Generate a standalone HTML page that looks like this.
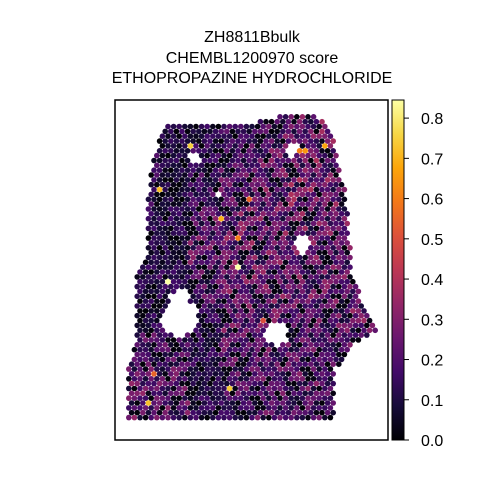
<!DOCTYPE html>
<html><head><meta charset="utf-8"><style>
body{margin:0;background:#fff;width:480px;height:480px;overflow:hidden;font-family:"Liberation Sans",sans-serif}
text{font-family:"Liberation Sans",sans-serif}
</style></head><body>
<svg id="chart" width="480" height="480" xmlns="http://www.w3.org/2000/svg">
<defs>
<linearGradient id="inferno" x1="0" y1="1" x2="0" y2="0">
<stop offset="0" stop-color="#000004"/><stop offset="0.1" stop-color="#160b39"/><stop offset="0.2" stop-color="#420a68"/><stop offset="0.3" stop-color="#6a176e"/><stop offset="0.4" stop-color="#932667"/><stop offset="0.5" stop-color="#bc3754"/><stop offset="0.6" stop-color="#dd513a"/><stop offset="0.7" stop-color="#f37819"/><stop offset="0.8" stop-color="#fca50a"/><stop offset="0.9" stop-color="#f6d746"/><stop offset="1" stop-color="#fcffa4"/>
</linearGradient>
</defs>
<g font-size="16" text-anchor="middle" fill="#000">
<text x="252" y="42">ZH8811Bbulk</text>
<text x="252" y="63">CHEMBL1200970 score</text>
<text x="252" y="83">ETHOPROPAZINE HYDROCHLORIDE</text>
</g>
<g id="spots"></g>
<rect x="115" y="100" width="273" height="340" fill="none" stroke="#000" stroke-width="1.5"/>
<rect x="392" y="100" width="12" height="340" fill="url(#inferno)" stroke="#000" stroke-width="1"/>
<g id="cbticks" font-size="16"></g>
</svg>
<script>
const cbTicks=[0.0,0.1,0.2,0.3,0.4,0.5,0.6,0.7,0.8];
const cbMax=0.845;
// coarse mean score per region (rows top->bottom, cols left->right)
const gridVals=[
[0.12,0.10,0.10,0.14,0.16,0.20,0.22,0.22],
[0.12,0.09,0.12,0.16,0.20,0.23,0.23,0.22],
[0.12,0.08,0.14,0.18,0.21,0.23,0.22,0.21],
[0.12,0.10,0.19,0.21,0.21,0.22,0.21,0.20],
[0.10,0.09,0.19,0.22,0.21,0.21,0.20,0.20],
[0.09,0.12,0.17,0.21,0.21,0.21,0.20,0.20],
[0.10,0.12,0.12,0.20,0.20,0.19,0.19,0.21],
[0.16,0.16,0.11,0.18,0.19,0.18,0.16,0.18],
[0.20,0.18,0.09,0.17,0.18,0.19,0.16,0.18],
[0.20,0.19,0.11,0.13,0.18,0.16,0.16,0.16]];
const outline=[[165,125],[255,123],[265,118],[315,114],[330,125],[335,150],[345,190],[350,240],[352,270],[362,300],[376,330],[355,345],[335,370],[333,422],[128,422],[128,370],[137,340],[137,270],[148,255],[148,200],[152,165],[160,135]];
const holes=[[180,318,18],[180,300,10],[276,333,12],[302,245,8],[195,158,6],[293,150,6],[218,195,4]];
const hot=[[192,145,0.75],[305,153,0.65],[158,188,0.72],[167,283,0.85],[170,311,0.78],[236,268,0.85],[231,390,0.74],[148,404,0.72],[325,146,0.68],[302,151,0.6],[220,217,0.7],[240,237,0.6],[250,200,0.55],[262,320,0.5],[135,293,0.6],[152,373,0.55]];
const mult=[0.15,1.4,0.9,1.7,0.6,1.1,0.05,1.3,0.8,1.5,0.4];
const x0=125,y0=110,cw=32,rh=32;
function inferno(t){const s=[[0,0,4],[22,11,57],[66,10,104],[106,23,110],[147,38,103],[188,55,84],[221,81,58],[243,120,25],[252,165,10],[246,215,70],[252,255,164]];
t=Math.max(0,Math.min(1,t))*10;const i=Math.min(9,Math.floor(t)),f=t-i;const a=s[i],b=s[i+1];return `rgb(${a.map((v,k)=>Math.round(v+(b[k]-v)*f)).join(',')})`;}
function inPoly(x,y){let c=false;for(let i=0,j=outline.length-1;i<outline.length;j=i++){const[xi,yi]=outline[i],[xj,yj]=outline[j];if((yi>y)!=(yj>y)&&x<(xj-xi)*(y-yi)/(yj-yi)+xi)c=!c;}return c;}
const g=document.getElementById('spots');const NS='http://www.w3.org/2000/svg';
const dx=5.6,dy=4.85;let r=0;
for(let y=112;y<424;y+=dy,r++){let col=0;for(let x=126+(r%2?dx/2:0);x<378;x+=dx,col++){
if(!inPoly(x,y))continue;if(holes.some(h=>Math.hypot(x-h[0],y-h[1])<h[2]))continue;
const ci=Math.min(7,Math.max(0,Math.floor((x-x0)/cw))),ri=Math.min(9,Math.max(0,Math.floor((y-y0)/rh)));
let v=gridVals[ri][ci];const k=(col*7+r*5+((col*r)%3))%mult.length;v=v*mult[k];
const h=hot.find(p=>Math.hypot(x-p[0],y-p[1])<3.2);if(h)v=h[2];
const c=document.createElementNS(NS,'circle');c.setAttribute('cx',x.toFixed(1));c.setAttribute('cy',y.toFixed(1));c.setAttribute('r','2.8');c.setAttribute('fill',inferno(v/cbMax));


g.appendChild(c);}}
const tg=document.getElementById('cbticks');
const sy=v=>440-v/cbMax*340;
cbTicks.forEach(t=>{const y=sy(t);const l=document.createElementNS(NS,'line');l.setAttribute('x1',404);l.setAttribute('x2',409);l.setAttribute('y1',y);l.setAttribute('y2',y);l.setAttribute('stroke','#000');


tg.appendChild(l);const tx=document.createElementNS(NS,'text');tx.setAttribute('x',421);tx.setAttribute('y',y+6);tx.textContent=t.toFixed(1);


tg.appendChild(tx);});
</script>
</body></html>
